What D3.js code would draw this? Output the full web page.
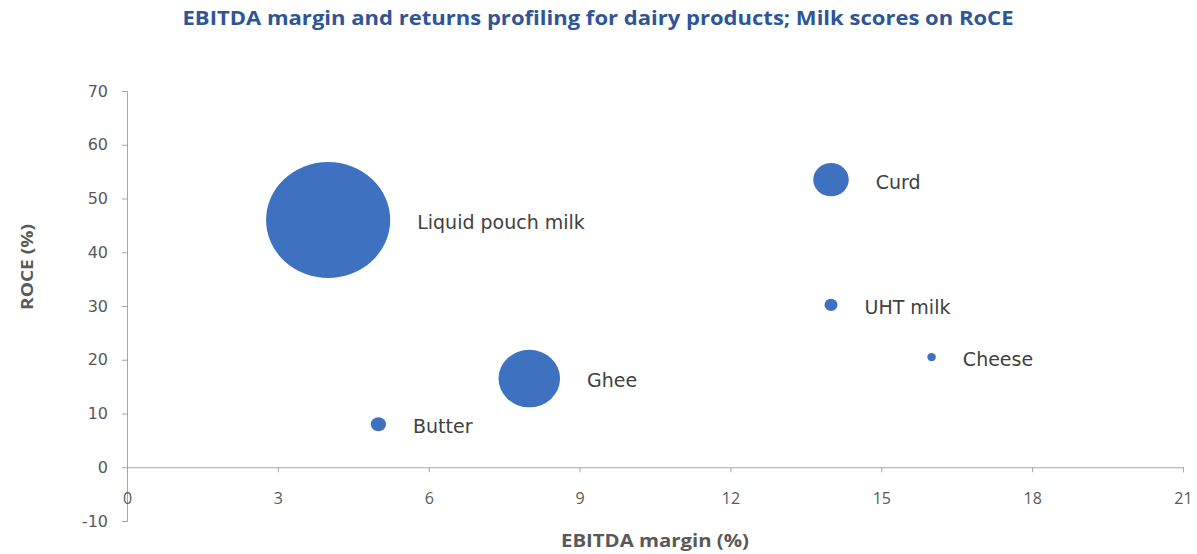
<!DOCTYPE html>
<html>
<head>
<meta charset="utf-8">
<script src="https://d3js.org/d3.v7.min.js"></script>
<style>
  body { margin: 0; background: #fff; }
  text { font-family: "Open Sans", "DejaVu Sans", sans-serif; }
</style>
</head>
<body>
<svg width="1197" height="554" id="chart"></svg>
<script>

// data
var products = ["Liquid pouch milk", "Curd", "UHT milk", "Cheese", "Ghee", "Butter"];
var ebitda   = [4, 14, 14, 16, 8, 5];
var roce     = [46, 53.5, 30.2, 20.5, 16.5, 8];
var bubble   = [100, 8.2, 1.1, 0.48, 24.6, 1.5];

var xTicks = [0, 3, 6, 9, 12, 15, 18, 21];
var yTicks = [-10, 0, 10, 20, 30, 40, 50, 60, 70];

var svg = d3.select("#chart");

var x = d3.scaleLinear().domain([0, 21]).range([127, 1183]);
var y = d3.scaleLinear().domain([-10, 70]).range([521, 91]);
var r = d3.scaleSqrt().domain([0, 100]).range([0, 58]);

var axisColor = "#a6a6a6";
var tickColor = "#595959";

// title
svg.append("text")
  .attr("x", 598)
  .attr("y", 25)
  .attr("text-anchor", "middle")
  .attr("font-size", "19px")
  .attr("font-weight", "bold")
  .attr("fill", "#2f5597")
  .attr("textLength", 831)
  .attr("lengthAdjust", "spacingAndGlyphs")
  .text("EBITDA margin and returns profiling for dairy products; Milk scores on RoCE");

// y axis
var gy = svg.append("g")
  .attr("transform", "translate(" + x(0) + ",0)")
  .call(d3.axisLeft(y).tickValues(yTicks).tickFormat(String).tickSize(5).tickPadding(14));
gy.select(".domain").attr("stroke", axisColor);
gy.selectAll(".tick line").attr("stroke", axisColor);
gy.selectAll(".tick text")
  .attr("fill", tickColor)
  .style("font-family", "'DejaVu Sans', sans-serif")
  .attr("font-size", "16px");

// x axis crossing at y = 0
var gx = svg.append("g")
  .attr("transform", "translate(0," + y(0) + ")")
  .call(d3.axisBottom(x).tickValues(xTicks).tickFormat(String).tickSize(5).tickPadding(20));
gx.select(".domain").attr("stroke", axisColor);
gx.selectAll(".tick line").attr("stroke", axisColor);
gx.selectAll(".tick text")
  .attr("fill", tickColor)
  .attr("font-size", "16px");

// axis titles
svg.append("text")
  .attr("transform", "translate(33,267) rotate(-90)")
  .attr("text-anchor", "middle")
  .attr("font-size", "16px")
  .attr("font-weight", "bold")
  .attr("fill", tickColor)
  .attr("textLength", 86)
  .attr("lengthAdjust", "spacingAndGlyphs")
  .text("ROCE (%)");

svg.append("text")
  .attr("x", 655)
  .attr("y", 547)
  .attr("text-anchor", "middle")
  .attr("font-size", "17px")
  .attr("font-weight", "bold")
  .attr("fill", tickColor)
  .attr("textLength", 188)
  .attr("lengthAdjust", "spacingAndGlyphs")
  .text("EBITDA margin (%)");

// bubbles
var data = products.map(function (p, i) {
  return { name: p, x: ebitda[i], y: roce[i], s: bubble[i] };
});

svg.append("g").selectAll("ellipse")
  .data(data)
  .enter()
  .append("ellipse")
  .attr("cx", function (d) { return x(d.x); })
  .attr("cy", function (d) { return y(d.y); })
  .attr("rx", function (d) { return r(d.s) * 1.07; })
  .attr("ry", function (d) { return r(d.s); })
  .attr("fill", "#3e72c0");

svg.append("g").selectAll("text")
  .data(data)
  .enter()
  .append("text")
  .attr("x", function (d) { return x(d.x) + r(d.s) * 1.07 + 27; })
  .attr("y", function (d) { return y(d.y); })
  .attr("dy", "0.47em")
  .style("font-family", "'DejaVu Sans', sans-serif")
  .attr("font-size", "19px")
  .attr("fill", "#404040")
  .text(function (d) { return d.name; });

</script>
</body>
</html>
